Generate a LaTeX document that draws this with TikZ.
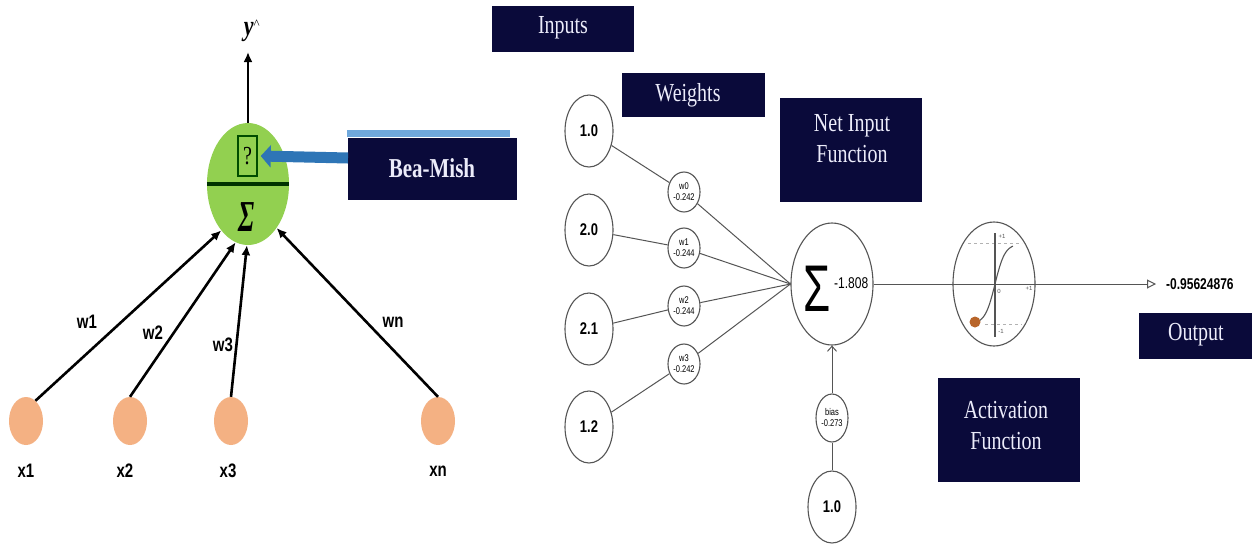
\documentclass[tikz,border=0pt]{standalone}
\usepackage{graphicx}
\usepackage{fontspec}
\setmainfont{Liberation Serif}
\setsansfont{Liberation Sans}
\usetikzlibrary{shapes.geometric,arrows.meta,calc}
\definecolor{navy}{HTML}{0A0A3A}
\definecolor{boxtxt}{HTML}{ECECFA}
\definecolor{grn}{HTML}{92D050}
\definecolor{peach}{HTML}{F4B183}
\definecolor{barblue}{HTML}{2E75B6}
\definecolor{lightblue}{HTML}{6FA8DC}
\definecolor{lgray}{HTML}{555555}
\definecolor{dotc}{HTML}{B8652A}
\newcommand\vs[2][1.3]{\scalebox{1}[#1]{#2}}
\tikzset{
  navybox/.style={fill=navy, inner sep=0pt},
  boxlabel/.style={text=boxtxt, font=\rmfamily\fontsize{20}{24}\selectfont, inner sep=0pt},
  inpt/.style={ellipse, fill=peach, minimum width=34pt, minimum height=48pt, inner sep=0pt},
  xlab/.style={font=\sffamily\bfseries\fontsize{15}{18}\selectfont, inner sep=0pt},
  blkarr/.style={line width=2.6pt, -{Latex[length=10pt,width=9pt]}},
  circ/.style={ellipse, draw=lgray, line width=1.1pt, fill=white, inner sep=0pt},
  bigc/.style={circ, minimum width=48pt, minimum height=72pt, font=\sffamily\bfseries\fontsize{13}{15}\selectfont},
  smallc/.style={circ, minimum width=32pt, minimum height=40pt, align=center, font=\sffamily\fontsize{7.5}{11}\selectfont},
  gl/.style={draw=lgray, line width=1pt},
}
\begin{document}
\begin{tikzpicture}[x=1pt,y=-1pt]
\useasboundingbox (0,0) rectangle (1252,547);
\fill[white] (0,0) rectangle (1252,547);

% ---------------- left part ----------------
\node[ellipse, fill=grn, minimum width=82pt, minimum height=122pt, inner sep=0pt] (g) at (248,184) {};
\draw[line width=3.5pt, draw=black!80!green] (g.west) -- (g.east);
\node[draw=black!70!green, line width=1.5pt, minimum width=19pt, minimum height=40pt, inner sep=0pt,
      font=\rmfamily\fontsize{20}{22}\selectfont] (qbox) at (247.5,156) {\vs{?}};
\node[font=\rmfamily\bfseries\itshape\fontsize{26}{28}\selectfont, inner sep=0pt] (sig) at (247,217) {\vs[1.7]{Σ}};
\coordinate (ytip) at (248,52);
\draw[line width=2.4pt, -{Latex[length=10pt,width=9pt]}] (g.north) -- (ytip);
\node[font=\rmfamily\bfseries\itshape\fontsize{22}{24}\selectfont, inner sep=0pt] (yhat) at (252,31) {\vs{y}\textsuperscript{\normalfont\fontsize{13}{13}\selectfont\^{}}};

\fill[lightblue] (347,130) rectangle (510,137);
\node[navybox, minimum width=169pt, minimum height=62pt] (bea) at (432.5,169) {};
\node[text=boxtxt, font=\rmfamily\bfseries\fontsize{21}{24}\selectfont, inner sep=0pt] at (432,168) {\vs{Bea-Mish}};
\coordinate (bstart) at (348,158);
\draw[draw=barblue, line width=11pt, -{Triangle[length=10pt,width=22pt]}] (bstart) -- ([xshift=3pt]qbox.east);

\node[inpt] (x1) at (26,421) {};
\node[inpt] (x2) at (130,421) {};
\node[inpt] (x3) at (231,421) {};
\node[inpt] (xn) at (438,421) {};
\node[xlab] (lx1) at (26,471) {\vs{x1}};
\node[xlab] (lx2) at (125,471) {\vs{x2}};
\node[xlab] (lx3) at (228,471) {\vs{x3}};
\node[xlab] (lxn) at (438,471) {\vs{xn}};

\draw[blkarr] (x1.65) -- (g.240);
\draw[blkarr] (x2.north) -- (g.258);
\draw[blkarr] (x3.north) -- (g.269);
\draw[blkarr] (xn.north) -- (g.303);
\node[xlab] (lw1) at (87,322) {\vs{w1}};
\node[xlab] (lw2) at (153,333) {\vs{w2}};
\node[xlab] (lw3) at (223,345) {\vs{w3}};
\node[xlab] (lwn) at (393,322) {\vs{wn}};

% ---------------- right part ----------------
\node[navybox, minimum width=142pt, minimum height=46pt] (inbox) at (563,29) {};
\node[boxlabel] at (563,28) {\vs{Inputs}};
\node[navybox, minimum width=143pt, minimum height=44pt] (wbox) at (693.5,95) {};
\node[boxlabel] at (688,95) {\vs{Weights}};
\node[navybox, minimum width=142pt, minimum height=104pt] (nbox) at (851,150) {};
\node[boxlabel] at (852,141) {\vs{\begin{tabular}{@{}c@{}}Net Input\\Function\end{tabular}}};
\node[navybox, minimum width=142pt, minimum height=104pt] (abox) at (1009,430) {};
\node[boxlabel] at (1006,428) {\vs{\begin{tabular}{@{}c@{}}Activation\\Function\end{tabular}}};
\node[navybox, minimum width=113pt, minimum height=46pt] (obox) at (1195.5,336) {};
\node[boxlabel] at (1196,335) {\vs{Output}};

\node[bigc] (i1) at (589,131) {\vs{1.0}};
\node[bigc] (i2) at (589,230) {\vs{2.0}};
\node[bigc] (i3) at (589,329) {\vs{2.1}};
\node[bigc] (i4) at (589,427) {\vs{1.2}};

\node[smallc] (w0) at (684,192) {\vs{w0}\\\vs{-0.242}};
\node[smallc] (w1) at (684,248) {\vs{w1}\\\vs{-0.244}};
\node[smallc] (w2) at (684,306) {\vs{w2}\\\vs{-0.244}};
\node[smallc] (w3) at (684,364) {\vs{w3}\\\vs{-0.242}};

\node[circ, minimum width=82pt, minimum height=122pt] (sum) at (832,284) {};
\node[font=\sffamily\fontsize{44}{44}\selectfont, inner sep=0pt] (sg) at (817,289) {\vs[1.5]{Σ}};
\node[font=\sffamily\fontsize{12}{12}\selectfont, anchor=west, inner sep=0pt] (sv) at (834,283) {\vs{-1.808}};

\node[smallc, minimum height=48pt] (bias) at (832,418) {\vs{bias}\\\vs{-0.273}};
\node[bigc] (bin) at (832,507) {\vs{1.0}};

\draw[gl] (i1) -- (w0);
\draw[gl] (i2) -- (w1);
\draw[gl] (i3) -- (w2);
\draw[gl] (i4) -- (w3);
\draw[gl] (w0) -- (sum.west);
\draw[gl] (w1) -- (sum.west);
\draw[gl] (w2) -- (sum.west);
\draw[gl] (w3) -- (sum.west);
\draw[gl] (bin) -- (bias);
\draw[gl, -{Straight Barb[length=5pt,width=9pt]}] (bias) -- (sum.south);

% activation
\node[circ, minimum width=82pt, minimum height=124pt] (act) at (994,284) {};
\draw[draw=gray!60, dashed, line width=0.6pt] (968,243) -- (1022,243);
\draw[draw=gray!60, dashed, line width=0.6pt] (985,324) -- (1022,324);
\draw[draw=lgray, line width=1.1pt] (995,233) -- (995,337);
\draw[draw=lgray, line width=1.1pt] plot[domain=-20:18, samples=40] ({995+\x},{284-40*tanh(\x/10)});
\fill[dotc] (975,322) circle (5.5);
\node[font=\sffamily\fontsize{6}{6}\selectfont, text=lgray, inner sep=0pt] (p1) at (1002,236) {+1};
\node[font=\sffamily\fontsize{6}{6}\selectfont, text=lgray, inner sep=0pt] (m1) at (1001,331) {-1};
\node[font=\sffamily\fontsize{6}{6}\selectfont, text=lgray, inner sep=0pt] (z0) at (999,291) {0};
\node[font=\sffamily\fontsize{6}{6}\selectfont, text=lgray, inner sep=0pt] (xr) at (1029,288) {+1};

\coordinate (outc) at (1156,284);
\draw[gl] (sum.east) -- (act.west);
\draw[gl] (act.west) -- (act.east);
\draw[gl, -{Triangle[open, length=9pt, width=9pt]}] (act.east) -- (outc);
\node[font=\sffamily\bfseries\fontsize{12}{12}\selectfont, anchor=west, inner sep=0pt] (oval) at (1166,284) {\vs{-0.95624876}};
\end{tikzpicture}
\end{document}
